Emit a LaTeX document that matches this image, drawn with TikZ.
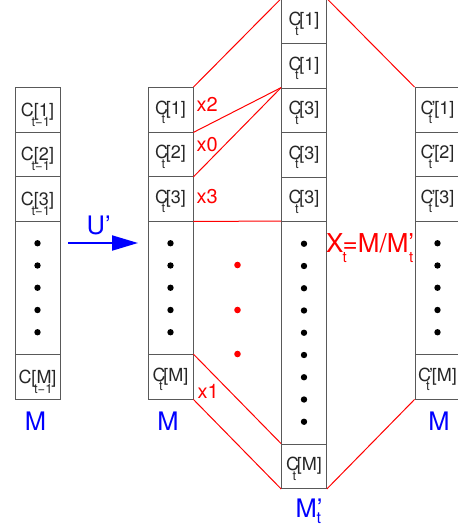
\documentclass[tikz,border=0pt]{standalone}
\usepackage{fontspec}
\setmainfont{TeX Gyre Heros}
\usetikzlibrary{arrows.meta}
\newcommand{\fs}[1]{\fontsize{#1}{#1}\selectfont}
\newcommand{\subt}[2]{\raisebox{-#1pt}{\fs{#2}t}}
\newcommand{\Ct}[1]{C\kern-6.5pt\subt{9.5}{13}\kern0.5pt[#1]}
\newcommand{\Cp}[1]{C\kern-2pt’\kern-7pt\subt{9.5}{13}\kern2pt[#1]}
\newcommand{\Cm}[1]{C[#1]\llap{\raisebox{-10pt}{\fs{13}t−1}\kern4pt}}
\tikzset{
  cellbox/.style={draw=black!65, line width=0.8pt, minimum width=45pt, minimum height=44.5pt,
    inner sep=0pt, text=black!85, font=\fs{18}, text height=12pt, text depth=3pt},
  cellold/.style={cellbox, text height=14pt, text depth=1.5pt},
  dotsbox/.style={draw=black!65, line width=0.8pt, minimum width=45pt, inner sep=0pt},
  redline/.style={red, line width=1pt},
  redlbl/.style={text=red, font=\fs{20}, inner sep=0pt, anchor=base west},
  bluelbl/.style={text=blue, font=\fs{25.5}, inner sep=0pt, anchor=base},
}
\begin{document}
\begin{tikzpicture}[x=1pt,y=-1pt]
\useasboundingbox (0,0) rectangle (458,528);
% column A (t-1)
\node[cellold] (a1) at (37.5,109.75) {\Cm{1}};
\node[cellold] (a2) at (37.5,154.25) {\Cm{2}};
\node[cellold] (a3) at (37.5,198.75) {\Cm{3}};
\node[dotsbox, minimum height=133.5pt] (ad) at (37.5,287.75) {};
\node[cellold] (aM) at (37.5,376.75) {\Cm{M}};
% column B
\node[cellbox] (b1) at (170.5,109.75) {\Ct{1}};
\node[cellbox] (b2) at (170.5,154.25) {\Ct{2}};
\node[cellbox] (b3) at (170.5,198.75) {\Ct{3}};
\node[dotsbox, minimum height=133.5pt] (bd) at (170.5,287.75) {};
\node[cellbox] (bM) at (170.5,376.75) {\Ct{M}};
% column C
\node[cellbox] (c1) at (304,21.25) {\Ct{1}};
\node[cellbox] (c2) at (304,65.75) {\Ct{1}};
\node[cellbox] (c3) at (304,110.25) {\Ct{3}};
\node[cellbox] (c4) at (304,154.75) {\Ct{3}};
\node[cellbox] (c5) at (304,199.25) {\Ct{3}};
\node[dotsbox, minimum height=222.5pt] (cd) at (304,332.75) {};
\node[cellbox] (cM) at (304,466.25) {\Ct{M}};
% column D
\node[cellbox] (d1) at (437.5,109.75) {\Cp{1}};
\node[cellbox] (d2) at (437.5,154.25) {\Cp{2}};
\node[cellbox] (d3) at (437.5,198.75) {\Cp{3}};
\node[dotsbox, minimum height=133.5pt] (dd) at (437.5,287.75) {};
\node[cellbox] (dM) at (437.5,376.75) {\Cp{M}};
% dots
\foreach \k in {1,...,5}{
  \fill (37.5,221+22.25*\k) circle (3.2);
  \fill (170.5,221+22.25*\k) circle (3.2);
  \fill (437.5,221+22.25*\k) circle (3.2);
}
\foreach \k in {1,...,9}{
  \fill (304,221.5+22.25*\k) circle (3.2);
}
\foreach \y in {265,310,354}{
  \fill[red] (237.5,\y) circle (3.3);
}
% red connectors
\draw[redline] (b1.north east) -- (c1.north west);
\draw[redline] (c1.north east) -- (d1.north west);
\draw[redline] (b1.south east) -- (c3.north west);
\draw[redline] (b2.south east) -- (c3.north west);
\draw[redline] (b3.south east) -- (cd.north west);
\draw[redline] (bM.north east) -- (cM.north west);
\draw[redline] (bM.south east) -- (cM.south west);
\draw[redline] (cM.south east) -- (dM.south west);
% red labels
\node[redlbl] (lx2) at (196.5,111.7) {x2};
\node[redlbl] (lx0) at (196.5,151.7) {x0};
\node[redlbl] (lx3) at (196.5,203.3) {x3};
\node[redlbl] (lx1) at (197.5,398.3) {x1};
\node[text=red, font=\fs{26}, inner sep=0pt, anchor=base west] (lX) at (326,252)
  {X\kern-1pt\subt{10}{15}\kern-4pt=M/M’\kern-5pt\subt{10}{15}};
% U' arrow
\coordinate (us) at (68,243);
\coordinate (ue) at (138,243);
\draw[blue, line width=2pt, -{Triangle[length=26pt,width=15pt]}] (us) -- (ue);
\node[bluelbl, anchor=base west] (lU) at (86.5,234) {U’};
% blue labels
\node[bluelbl] (lMa) at (35.5,430) {M};
\node[bluelbl] (lMb) at (168,430) {M};
\node[bluelbl] (lMd) at (439,430) {M};
\node[bluelbl, anchor=base west] (lMc) at (295.5,517) {M’\kern-6pt\subt{6}{16}};
\end{tikzpicture}
\end{document}
